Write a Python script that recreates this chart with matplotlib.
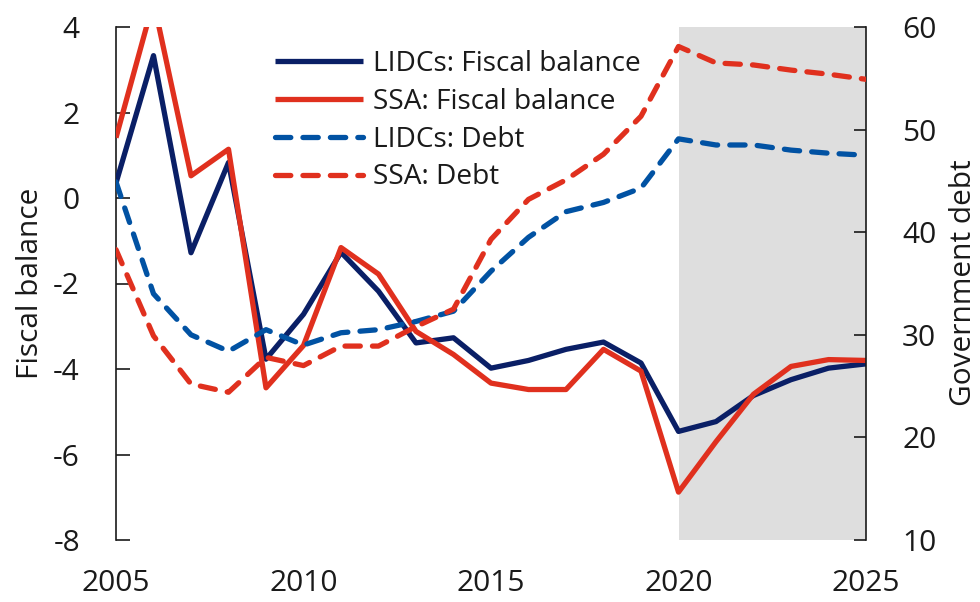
import matplotlib
matplotlib.use("Agg")
import matplotlib.pyplot as plt

years = list(range(2005, 2026))
lidc_balance = [0.35, 3.33, -1.28, 0.83, -3.77, -2.72, -1.27, -2.18, -3.39, -3.27, -3.98,
                -3.80, -3.54, -3.37, -3.86, -5.46, -5.23, -4.62, -4.25, -3.98, -3.88]
ssa_balance = [1.41, 4.60, 0.52, 1.14, -4.44, -3.45, -1.16, -1.78, -3.12, -3.66, -4.33,
               -4.48, -4.48, -3.54, -4.05, -6.88, -5.70, -4.59, -3.94, -3.78, -3.80]
lidc_debt = [44.9, 34.0, 30.0, 28.4, 30.5, 29.0, 30.2, 30.5, 31.3, 32.3, 36.2,
             39.5, 42.0, 42.9, 44.3, 49.1, 48.5, 48.5, 48.0, 47.7, 47.5]
ssa_debt = [38.3, 29.9, 25.2, 24.4, 27.8, 27.0, 28.9, 28.9, 30.8, 32.5, 39.3,
            43.2, 45.1, 47.6, 51.3, 58.1, 56.5, 56.3, 55.8, 55.4, 54.9]
labels = ["LIDCs: Fiscal balance", "SSA: Fiscal balance", "LIDCs: Debt", "SSA: Debt"]
xticks = [2005, 2010, 2015, 2020, 2025]
left_ticks = [4, 2, 0, -2, -4, -6, -8]
right_ticks = [60, 50, 40, 30, 20, 10]
proj_start, proj_end = 2020, 2025

NAVY = "#0a1f66"
RED = "#e0301e"
BLUE = "#0152a3"
TXT = "#1a1a1a"
FS = 21.5
LFS = 20.2

plt.rcParams['font.family'] = ['Open Sans', 'DejaVu Sans']
plt.rcParams['axes.unicode_minus'] = False

fig = plt.figure(figsize=(9.8, 6.02), dpi=100)
ax = fig.add_axes([116/980, 62/602, 750/980, 513/602])
ax2 = ax.twinx()

ax.axvspan(proj_start, proj_end, color="#dedede", lw=0, zorder=0)

lw = 3.8
dash = (2.9, 2.3)
l1, = ax.plot(years, lidc_balance, color=NAVY, lw=lw, solid_capstyle='butt', zorder=3)
l2, = ax.plot(years, ssa_balance, color=RED, lw=lw, solid_capstyle='butt', zorder=4)
l3, = ax2.plot(years, lidc_debt, color=BLUE, lw=lw, dashes=dash, dash_capstyle='round', zorder=3)
l4, = ax2.plot(years, ssa_debt, color=RED, lw=lw, dashes=dash, dash_capstyle='round', zorder=3)

ax.set_xlim(2005, 2025)
ax.set_ylim(-8, 4)
ax2.set_ylim(10, 60)
ax.set_xticks(xticks)
ax.set_yticks(left_ticks)
ax2.set_yticks(right_ticks)

for a in (ax, ax2):
    for s in ("top", "bottom"):
        a.spines[s].set_visible(False)
    a.spines["left"].set_linewidth(1.2)
    a.spines["right"].set_linewidth(1.2)
    a.spines["left"].set_color(TXT)
    a.spines["right"].set_color(TXT)
ax.spines["right"].set_visible(False)
ax2.spines["left"].set_visible(False)

ax.tick_params(axis='y', direction='in', length=10, width=1.2, color=TXT, pad=26,
               labelsize=FS, labelcolor=TXT)
ax2.tick_params(axis='y', direction='in', length=9, width=1.2, color=TXT, pad=26,
                labelsize=FS, labelcolor=TXT)
ax.tick_params(axis='x', length=0, pad=21, labelsize=FS, labelcolor=TXT)
ax2.set_zorder(ax.get_zorder() + 1)
ax2.patch.set_visible(False)

fig.text(30/980, 1 - 283/602, "Fiscal balance", rotation=90, ha='center', va='center',
         fontsize=FS, color=TXT)
fig.text(963/980, 1 - 283/602, "Government debt", rotation=90, ha='center', va='center',
         fontsize=FS, color=TXT)

leg = ax.legend([l1, l2, l3, l4], labels, loc='upper left',
                bbox_to_anchor=(275/980, 1 - 50/602), bbox_transform=fig.transFigure,
                frameon=False, fontsize=LFS, handlelength=3.15, handletextpad=0.33,
                labelspacing=0.35, borderpad=0, borderaxespad=0)
for t in leg.get_texts():
    t.set_color(TXT)

fig.savefig("out.png", dpi=100)
